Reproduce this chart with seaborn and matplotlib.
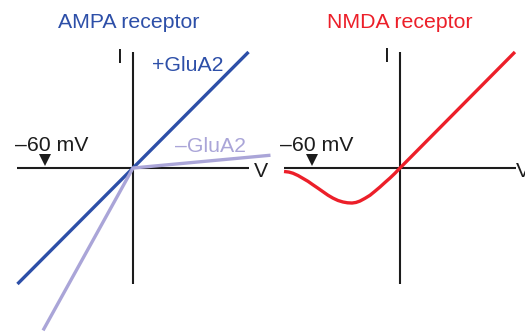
import matplotlib
matplotlib.use("Agg")
import matplotlib.pyplot as plt
import seaborn as sns

# I-V relations: voltage in mV, current normalised (1 = top of I axis)
ampa_plus_v = [-79, 79]
ampa_plus_i = [-1.0, 1.0]
ampa_minus_v = [-61.5, 0, 94]
ampa_minus_i = [-1.40, 0, 0.11]

nmda_v = [-79.3, -76.0, -73.2, -69.7, -66.3, -62.9, -59.5, -56.0, -52.6, -49.2, -45.8,
          -42.4, -39.0, -35.9, -32.8, -30.1, -27.4, -24.0, -20.5, -17.1, -13.7, -10.3,
          -6.8, -3.4, 0, 78.6]
nmda_i = [-0.03, -0.035, -0.045, -0.065, -0.09, -0.115, -0.145, -0.175, -0.205, -0.235, -0.26,
          -0.28, -0.293, -0.30, -0.302, -0.297, -0.285, -0.262, -0.235, -0.20, -0.164, -0.125,
          -0.086, -0.045, 0, 1.0]

axis_v = [-79, 79]
axis_i = [-1.0, 1.0]
marker_v = -60

blue = "#2d4fa8"
lilac = "#aaa5d8"
red = "#ec1f29"
black = "#1c1c1c"

sns.set_style("white")
plt.rcParams["font.family"] = ["Liberation Sans", "DejaVu Sans"]

W, H = 525, 332
fig = plt.figure(figsize=(W / 100, H / 100), dpi=100)

px_per_mv = 1.4625   # horizontal scale
px_per_i = 116.0     # vertical scale
origin_y = 168       # pixel row of the V axis (from top)


def make_axes(left, width, origin_x):
    ax = fig.add_axes([left / W, 0, width / W, 1])
    ax.set_xlim(-(origin_x - left) / px_per_mv, (left + width - origin_x) / px_per_mv)
    ax.set_ylim(-(H - origin_y) / px_per_i, origin_y / px_per_i)
    ax.axis("off")
    ax.plot(axis_v, [0, 0], color=black, lw=1.5, zorder=1, solid_capstyle="butt")
    ax.plot([0, 0], axis_i, color=black, lw=1.5, zorder=1, solid_capstyle="butt")
    ax.plot([marker_v], [0.068], marker="v", color=black, ms=8, mew=0, zorder=3)
    return ax


ax_l = make_axes(0, 262.5, 133)
ax_r = make_axes(262.5, 262.5, 400)

# AMPA receptor
sns.lineplot(x=ampa_plus_v, y=ampa_plus_i, ax=ax_l, color=blue, lw=2.4,
             solid_capstyle="butt", zorder=2, clip_on=False)
sns.lineplot(x=ampa_minus_v, y=ampa_minus_i, ax=ax_l, color=lilac, lw=2.4,
             solid_capstyle="butt", zorder=2.5, clip_on=False, sort=False)

# NMDA receptor
sns.lineplot(x=nmda_v, y=nmda_i, ax=ax_r, color=red, lw=2.4,
             solid_capstyle="butt", zorder=2, clip_on=False, sort=False)

fs = 15.3


def label(x, y, s, color=black, ha="left"):
    fig.text(x / W, 1 - y / H, s, fontsize=fs, color=color, ha=ha, va="baseline")


label(128.5, 28, "AMPA receptor", blue, "center")
label(400, 28, "NMDA receptor", red, "center")
label(152, 71, "+GluA2", blue)
label(175, 152, "\u2013GluA2", lilac)
label(15, 151, "\u201360 mV")
label(280, 151, "\u201360 mV")
label(120, 63, "I", ha="center")
label(387, 62, "I", ha="center")
label(254, 177, "V")
label(516, 177, "V")

fig.savefig("out.png", dpi=100)
